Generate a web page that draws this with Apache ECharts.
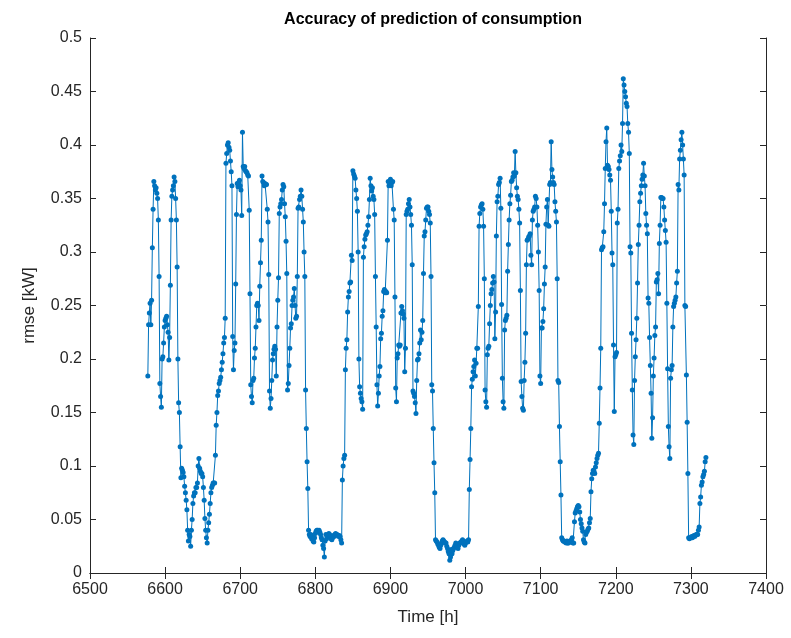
<!DOCTYPE html>
<html><head><meta charset="utf-8">
<script src="https://cdn.jsdelivr.net/npm/echarts@6/dist/echarts.min.js"></script>
<style>html,body{margin:0;padding:0;background:#fff}#c{width:791px;height:638px}</style>
</head><body><div id="c"></div>
<script>
const startHour = 6577;
const rmse = [
0.184,0.232,0.243,0.252,0.232,0.255,0.304,0.340,0.366,0.362,
0.358,0.360,0.355,0.350,0.330,0.277,0.177,0.165,0.155,0.200,
0.202,0.215,0.230,0.236,0.238,0.240,0.232,0.225,0.199,0.220,
0.269,0.330,0.352,0.358,0.362,0.370,0.366,0.350,0.330,0.286,
0.200,0.159,0.150,
0.118,0.089,0.098,0.096,0.094,0.090,0.081,0.075,0.068,0.059,
0.040,0.030,0.036,0.034,0.025,0.040,0.050,0.065,0.072,0.075,
0.075,0.080,0.080,0.084,0.100,0.107,0.098,0.095,0.093,0.093,
0.090,0.080,0.068,0.051,0.040,0.033,0.028,0.040,0.047,0.055,
0.065,0.075,0.080,0.082,0.084,0.084,0.084,0.110,0.138,0.150,
0.166,0.170,0.177,0.180,0.183,0.190,0.197,0.205,0.215,0.220,
0.238,0.383,0.392,0.400,0.402,0.398,0.395,0.385,0.375,0.362,
0.221,0.190,0.208,0.215,0.270,0.335,0.364,0.361,0.365,0.367,
0.362,0.358,0.334,0.412,0.380,0.378,0.380,0.376,0.375,0.374,
0.372,0.371,0.339,0.261,0.176,0.165,0.159,0.180,0.182,0.201,
0.210,0.230,0.250,0.252,0.250,0.236,0.268,0.290,0.311,0.371,
0.366,0.365,0.362,0.364,0.363,0.363,0.340,0.328,0.279,0.170,
0.154,0.163,0.180,0.199,0.205,0.209,0.212,0.209,0.184,0.230,
0.255,0.276,0.336,0.342,0.345,0.349,0.358,0.363,0.361,0.345,
0.333,0.310,0.280,0.171,0.177,0.194,0.210,0.229,0.233,0.250,
0.255,0.258,0.266,0.250,0.238,0.240,0.277,0.341,0.342,0.349,
0.352,0.358,0.352,0.340,0.328,0.300,0.277,0.171,0.135,0.104,
0.079,0.040,0.036,0.034,0.036,0.032,0.034,0.030,0.029,0.033,
0.037,0.039,0.040,0.040,0.038,0.040,0.038,0.036,0.033,0.031,
0.026,0.023,0.015,0.030,0.036,0.032,0.034,0.036,0.037,0.036,
0.034,0.032,0.031,0.033,0.035,0.034,0.036,0.037,0.036,0.036,
0.035,0.034,0.035,0.034,0.031,0.028,0.087,0.100,0.107,0.110,
0.190,0.210,0.218,0.244,0.258,0.263,0.271,0.272,0.297,0.292,
0.376,0.373,0.371,0.369,0.358,0.350,0.338,0.300,0.200,0.174,
0.168,0.163,0.160,0.153,0.295,0.305,0.312,0.316,0.317,0.319,
0.325,0.333,0.349,0.369,0.362,0.357,0.360,0.352,0.349,0.335,
0.277,0.230,0.176,0.156,0.168,0.184,0.193,0.219,0.224,0.240,
0.245,0.263,0.265,0.262,0.263,0.262,0.311,0.366,0.362,0.365,
0.368,0.362,0.365,0.366,0.340,0.330,0.258,0.173,0.160,0.201,
0.205,0.213,0.212,0.213,0.243,0.249,0.245,0.242,0.238,0.188,
0.210,0.335,0.338,0.340,0.345,0.349,0.342,0.335,0.325,0.288,
0.170,0.168,0.165,0.159,0.149,0.180,0.199,0.200,0.205,0.215,
0.227,0.218,0.225,0.236,0.280,0.315,0.319,0.330,0.341,0.342,
0.342,0.338,0.335,0.327,0.277,0.176,0.170,0.135,0.103,0.075,
0.031,0.030,0.029,0.027,0.026,0.024,0.023,0.026,0.028,0.030,
0.031,0.030,0.029,0.028,0.028,0.025,0.023,0.020,0.018,0.012,
0.015,0.022,0.018,0.021,0.023,0.024,0.026,0.028,0.026,0.024,
0.023,0.026,0.028,0.028,0.029,0.030,0.031,0.029,0.027,0.026,
0.028,0.029,0.030,0.029,0.031,0.078,0.106,0.135,0.174,0.181,
0.188,0.193,0.199,0.184,0.196,0.210,0.210,0.249,0.324,0.336,
0.342,0.344,0.345,0.340,0.324,0.275,0.171,0.160,0.155,0.204,
0.210,0.212,0.233,0.250,0.261,0.265,0.271,0.277,0.272,0.219,
0.244,0.315,0.347,0.352,0.363,0.365,0.369,0.341,0.251,0.182,
0.160,0.154,0.227,0.236,0.238,0.241,0.282,0.307,0.330,0.345,
0.353,0.366,0.367,0.370,0.374,0.371,0.394,0.374,0.360,0.352,
0.349,0.340,0.327,0.264,0.179,0.165,0.154,0.152,0.180,0.197,
0.224,0.288,0.311,0.312,0.314,0.315,0.317,0.297,0.288,0.330,
0.338,0.340,0.342,0.352,0.350,0.342,0.325,0.300,0.264,0.184,
0.177,0.229,0.229,0.235,0.247,0.270,0.286,0.326,0.342,0.349,
0.325,0.324,0.363,0.365,0.403,0.377,0.370,0.365,0.363,0.347,
0.338,0.328,0.275,0.180,0.178,0.137,0.104,0.073,0.033,0.031,
0.030,0.030,0.029,0.029,0.028,0.030,0.028,0.028,0.029,0.030,
0.029,0.031,0.033,0.028,0.028,0.048,0.056,0.058,0.060,0.062,
0.063,0.062,0.057,0.050,0.046,0.042,0.039,0.031,0.029,0.028,
0.036,0.038,0.039,0.041,0.042,0.047,0.051,0.076,0.088,0.093,
0.096,0.095,0.093,0.099,0.103,0.107,0.110,0.112,0.140,0.173,
0.210,0.302,0.304,0.305,0.319,0.345,0.378,0.403,0.416,0.381,
0.380,0.377,0.372,0.367,0.338,0.299,0.288,0.213,0.151,0.202,
0.204,0.206,0.327,0.340,0.378,0.385,0.390,0.400,0.394,0.420,
0.462,0.456,0.450,0.445,0.439,0.436,0.420,0.412,0.392,0.305,
0.299,0.224,0.171,0.129,0.120,0.180,0.202,0.218,0.238,0.271,
0.307,0.325,0.347,0.355,0.362,0.368,0.372,0.383,0.371,0.362,
0.336,0.325,0.317,0.257,0.252,0.220,0.194,0.168,0.126,0.145,
0.184,0.201,0.222,0.230,0.272,0.274,0.280,0.261,0.308,0.325,
0.351,0.351,0.350,0.350,0.342,0.330,0.320,0.309,0.252,0.191,
0.137,0.118,0.107,0.182,0.190,0.194,0.230,0.249,0.252,0.255,
0.258,0.271,0.282,0.363,0.358,0.387,0.395,0.405,0.412,0.400,
0.387,0.372,0.250,0.249,0.185,0.141,0.093,0.033,0.032,0.033,
0.033,0.034,0.033,0.034,0.035,0.034,0.035,0.036,0.036,0.036,
0.040,0.043,0.065,0.071,0.082,0.085,0.090,0.092,0.095,0.104,0.108
];
const xTicks = [6500,6600,6700,6800,6900,7000,7100,7200,7300,7400];
const yTicks = [0,0.05,0.1,0.15,0.2,0.25,0.3,0.35,0.4,0.45,0.5];

const pts = rmse.map((v,i)=>[startHour+i, v]);
const axisCol = '#262626';
const font = 'Liberation Sans, Arial, sans-serif';
const chart = echarts.init(document.getElementById('c'), null, {renderer:'canvas'});
const baseX = {type:'value', min:xTicks[0], max:xTicks[xTicks.length-1], interval:100, splitLine:{show:false},
  axisLine:{show:true, lineStyle:{color:axisCol, width:1}},
  axisTick:{show:true, inside:true, length:6, lineStyle:{color:axisCol}}};
const baseY = {type:'value', min:yTicks[0], max:yTicks[yTicks.length-1], interval:0.05, splitLine:{show:false},
  axisLine:{show:true, lineStyle:{color:axisCol, width:1}},
  axisTick:{show:true, inside:true, length:6, lineStyle:{color:axisCol}}};
chart.setOption({
  animation:false,
  backgroundColor:'#fff',
  title:{text:'Accuracy of prediction of consumption', left:428, top:7, textAlign:'center',
    textStyle:{fontFamily:font, fontWeight:'bold', fontSize:16, color:'#000'}},
  grid:{left:90, right:25, top:38, bottom:65},
  xAxis:[
    Object.assign({}, baseX, {position:'bottom', name:'Time [h]', nameLocation:'middle', nameGap:36,
      nameTextStyle:{fontFamily:font, fontSize:17, color:axisCol},
      axisLabel:{fontFamily:font, fontSize:16, color:axisCol, margin:9, formatter:v=>String(v)}}),
    Object.assign({}, baseX, {position:'top', axisLabel:{show:false}})
  ],
  yAxis:[
    Object.assign({}, baseY, {position:'left', name:'rmse [kW]', nameLocation:'middle', nameGap:52,
      nameTextStyle:{fontFamily:font, fontSize:17, color:axisCol},
      axisLabel:{fontFamily:font, fontSize:16, color:axisCol, margin:8,
        formatter:v=>String(Math.round(v*100)/100)}}),
    Object.assign({}, baseY, {position:'right', axisLabel:{show:false}})
  ],
  series:[{type:'line', data:pts, xAxisIndex:0, yAxisIndex:0, symbol:'circle', symbolSize:5,
    showAllSymbol:true, itemStyle:{color:'#0072BD'}, lineStyle:{color:'#0072BD', width:1}}]
});
</script></body></html>
